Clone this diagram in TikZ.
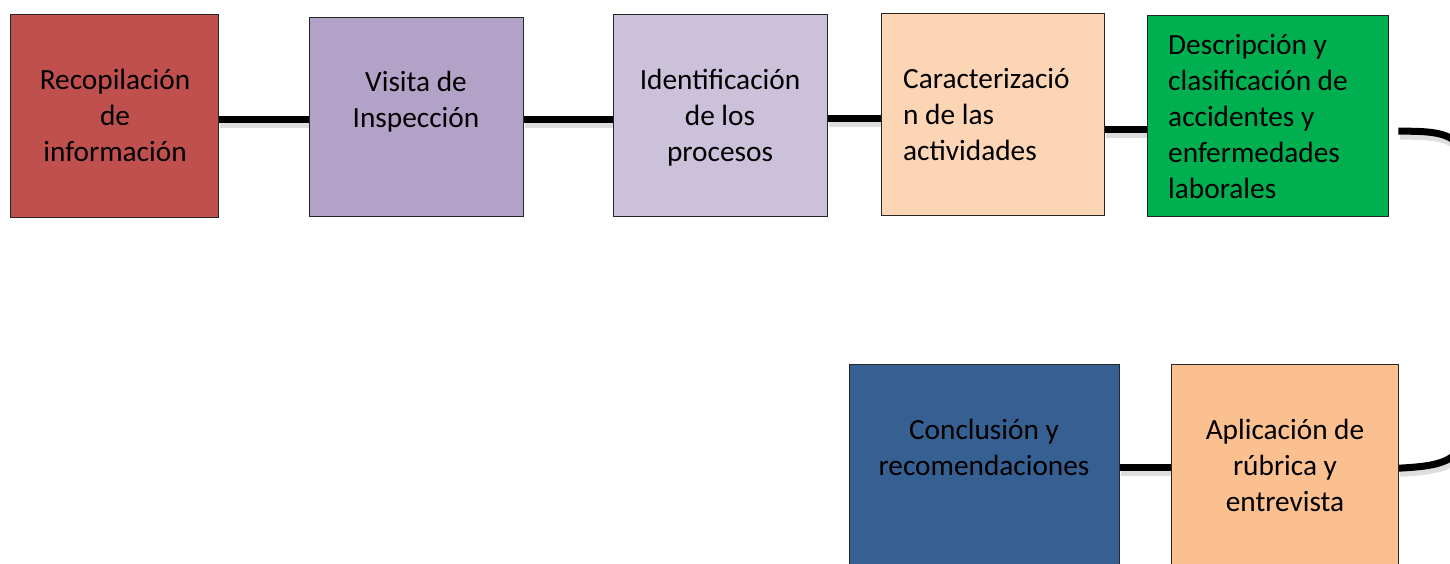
\documentclass[tikz,border=0pt]{standalone}
\usepackage{fontspec}
\setmainfont{Carlito}
\definecolor{cRed}{HTML}{C0504D}
\definecolor{cPurple}{HTML}{B3A2C7}
\definecolor{cLilac}{HTML}{CCC1DA}
\definecolor{cPeachA}{HTML}{FCD5B5}
\definecolor{cGreen}{HTML}{00B050}
\definecolor{cBlue}{HTML}{376092}
\definecolor{cPeachB}{HTML}{FAC090}
\begin{document}
\begin{tikzpicture}[x=1pt,y=-1pt,
  box/.style={draw=black!85,line width=0.9pt,inner sep=0pt,anchor=north west},
  lbl/.style={inner sep=0pt,font=\fontsize{29.3}{36}\selectfont,align=center,text=black},
  lbll/.style={lbl,align=left,anchor=west},
  conn/.style={line width=7pt,draw=black},
  shad/.style={line width=8pt,draw=black,opacity=0.13,transform canvas={shift={(1.5pt,-4.5pt)}}}]
\useasboundingbox (0,0) rectangle (1450,564);
\clip (0,0) rectangle (1450,564);
\fill[white] (0,0) rectangle (1450,564);

\path
  (10.5,14) node[anchor=north west,minimum width=208pt,minimum height=203pt,inner sep=0pt] (b1) {}
  (309,17) node[anchor=north west,minimum width=214pt,minimum height=199pt,inner sep=0pt] (b2) {}
  (613,14) node[anchor=north west,minimum width=214pt,minimum height=202pt,inner sep=0pt] (b3) {}
  (881,13) node[anchor=north west,minimum width=223pt,minimum height=202pt,inner sep=0pt] (b4) {}
  (1147,15) node[anchor=north west,minimum width=241pt,minimum height=201pt,inner sep=0pt] (b5) {}
  (849,364) node[anchor=north west,minimum width=270pt,minimum height=210pt,inner sep=0pt] (b6) {}
  (1171,364) node[anchor=north west,minimum width=227pt,minimum height=210pt,inner sep=0pt] (b7) {};

\coordinate (r1) at (1463,165);
\coordinate (r2) at (1463,430);

% shadows
\draw[shad] ([yshift=-3.5pt]b1.east) -- ([yshift=-3.5pt]b1.east -| b2.west);
\draw[shad] ([yshift=-3pt]b2.east) -- ([yshift=-3pt]b2.east -| b3.west);
\draw[shad] ([yshift=-3.5pt]b3.east) -- ([yshift=-3.5pt]b3.east -| b4.west);
\draw[shad] ([yshift=-15pt]b4.east) -- ([yshift=-15pt]b4.east -| b5.west);
\draw[shad] ([xshift=10pt,yshift=-15.5pt]b5.east) .. controls (1440,131) and (1463,133) .. (r1) -- (r2) .. controls (1463,462) and (1440,466) .. ([yshift=1pt]b7.east);
\draw[shad] ([yshift=1.5pt]b6.east) -- ([yshift=1.5pt]b6.east -| b7.west);

% connectors
\draw[conn] ([yshift=-3.5pt]b1.east) -- ([yshift=-3.5pt]b1.east -| b2.west);
\draw[conn] ([yshift=-3pt]b2.east) -- ([yshift=-3pt]b2.east -| b3.west);
\draw[conn] ([yshift=-3.5pt]b3.east) -- ([yshift=-3.5pt]b3.east -| b4.west);
\draw[conn] ([yshift=-15pt]b4.east) -- ([yshift=-15pt]b4.east -| b5.west);
\draw[conn] ([xshift=10pt,yshift=-15.5pt]b5.east) .. controls (1440,131) and (1463,133) .. (r1) -- (r2) .. controls (1463,462) and (1440,466) .. ([yshift=1pt]b7.east);
\draw[conn] ([yshift=1.5pt]b6.east) -- ([yshift=1.5pt]b6.east -| b7.west);

% boxes
\draw[box,fill=cRed] (b1.north west) rectangle (b1.south east);
\draw[box,fill=cPurple] (b2.north west) rectangle (b2.south east);
\draw[box,fill=cLilac] (b3.north west) rectangle (b3.south east);
\draw[box,fill=cPeachA] (b4.north west) rectangle (b4.south east);
\draw[box,fill=cGreen] (b5.north west) rectangle (b5.south east);
\draw[box,fill=cBlue] (b6.north west) rectangle (b6.south east);
\draw[box,fill=cPeachB] (b7.north west) rectangle (b7.south east);

% labels
\node[lbl] (t1) at (115,118) {Recopilación\strut\\de\strut\\información\strut};
\node[lbl] (t2) at (416,102) {Visita de\strut\\Inspección\strut};
\node[lbl] (t3) at (720,118) {Identificación\strut\\de los\strut\\procesos\strut};
\node[lbll] (t4) at (903,117) {Caracterizació\strut\\n de las\strut\\actividades\strut};
\node[lbll] (t5) at (1168,119) {Descripción y\strut\\clasificación de\strut\\accidentes y\strut\\enfermedades\strut\\laborales\strut};
\node[lbl] (t6) at (984,450) {Conclusión y\strut\\recomendaciones\strut};
\node[lbl] (t7) at (1285,468) {Aplicación de\strut\\rúbrica y\strut\\entrevista\strut};
\end{tikzpicture}
\end{document}
